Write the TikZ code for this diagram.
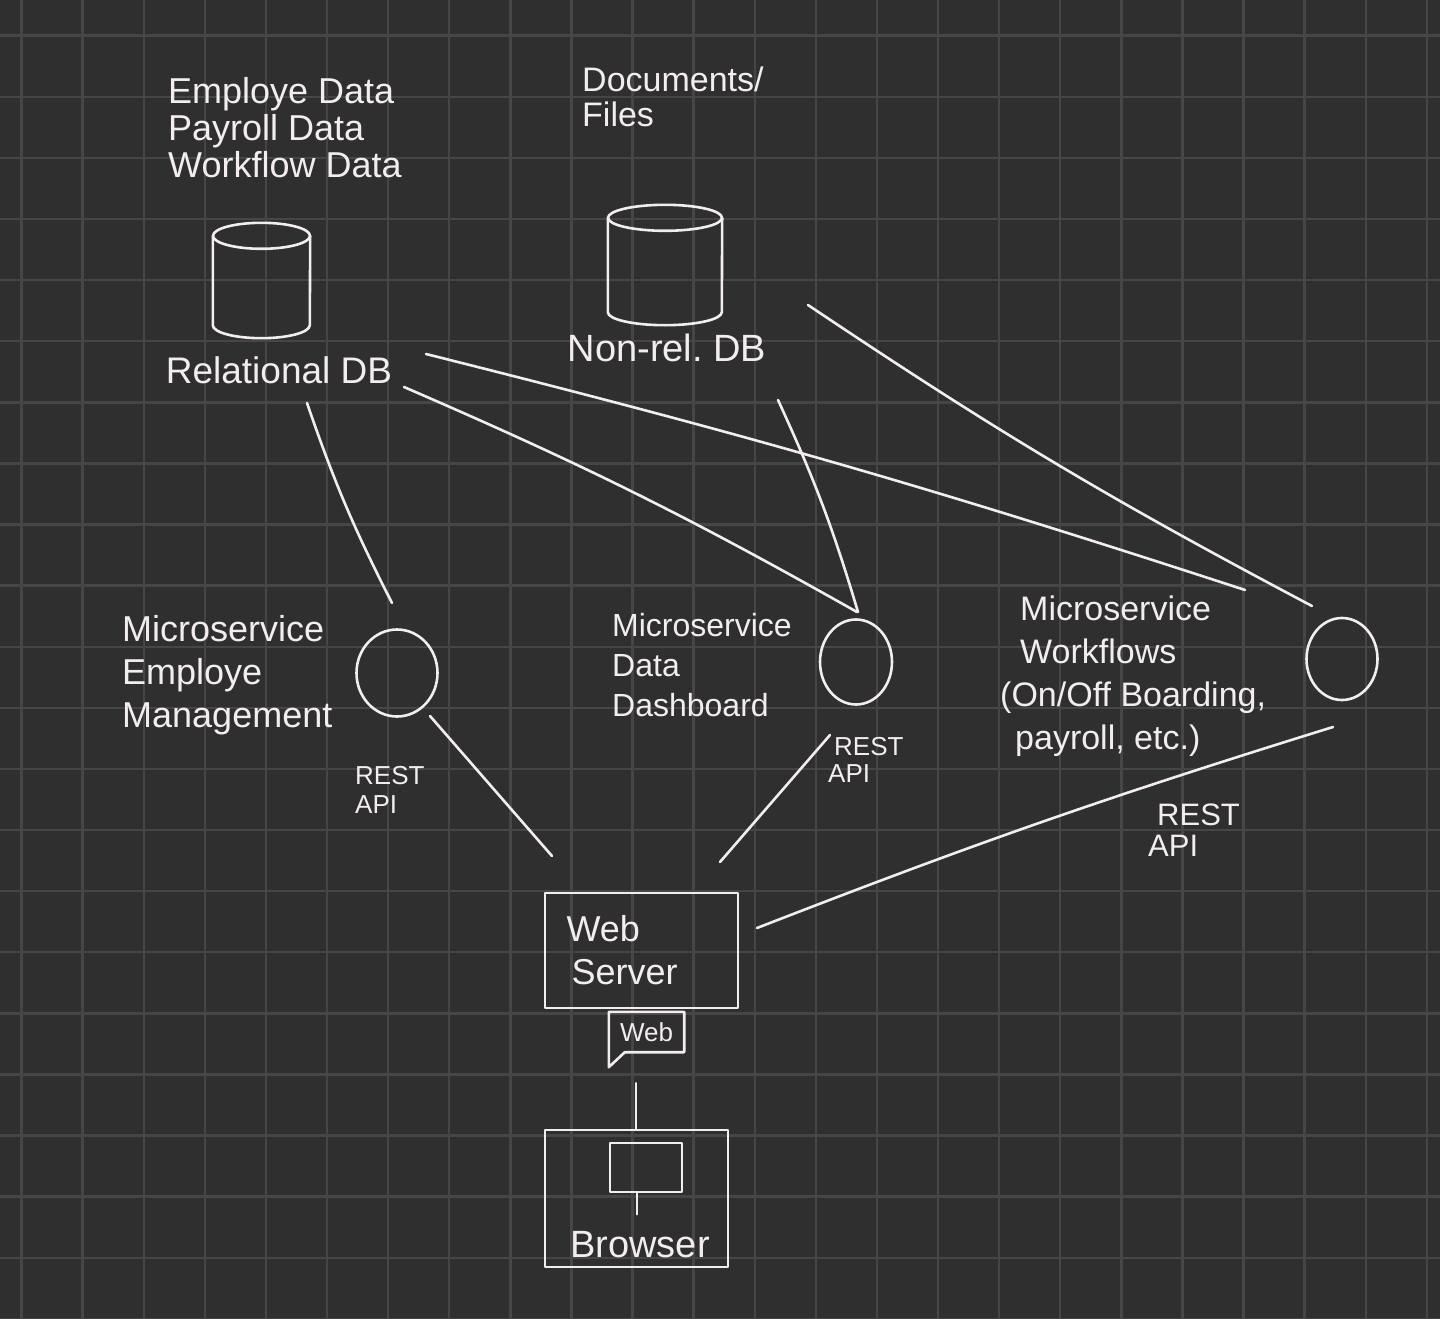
\documentclass[tikz,border=0pt]{standalone}
\usepackage{fontspec}
\setmainfont{Liberation Sans}
\usetikzlibrary{shapes.geometric,calc}
\definecolor{bgc}{HTML}{2F2F2F}
\definecolor{gridc}{HTML}{464646}
\definecolor{inkc}{HTML}{F4EDED}
\frenchspacing
\begin{document}
\begin{tikzpicture}[x=1pt,y=-1pt,
  ink/.style={draw=inkc,line width=2.6pt,line cap=round,line join=round},
  conn/.style={ink},
  gridline/.style={draw=gridc,line width=2.4pt},
  txt/.style={text=inkc,inner sep=0pt,align=left},
  box/.style={ink,rectangle,inner sep=0pt},
  svc/.style={ink,ellipse,inner sep=0pt},
  hold/.style={draw=none,rectangle,inner sep=0pt}]
% background and grid
\useasboundingbox (0,0) rectangle (1440,1319);
\fill[bgc] (0,0) rectangle (1440,1319);
\foreach \i in {0,...,23} \draw[gridline] (21.5+61.1*\i,0) -- (21.5+61.1*\i,1319);
\foreach \j in {0,...,21} \draw[gridline] (0,35.7+61.1*\j) -- (1440,35.7+61.1*\j);

% data labels
\node[txt,anchor=west,font=\fontsize{36}{37}\selectfont] (t1) at (168,128) {Employe Data\\Payroll Data\\Workflow Data};
\node[txt,anchor=west,font=\fontsize{34}{35}\selectfont] (t2) at (582,97) {Documents/\\Files};

% databases
\node[hold,minimum width=97pt,minimum height=115pt] (reldb) at (261.5,280.5) {};
\draw[ink] ([yshift=-13pt]reldb.north) ellipse [x radius=48.5pt,y radius=13pt];
\draw[ink] ([yshift=-13pt]reldb.north west) -- ([yshift=13pt]reldb.south west)
  arc[start angle=180,end angle=360,x radius=48.5pt,y radius=13pt] -- ([yshift=-13pt]reldb.north east);
\node[txt,font=\fontsize{37}{40}\selectfont] (reltxt) at (279,370) {Relational DB};

\node[hold,minimum width=114pt,minimum height=120pt] (nonrel) at (665,265) {};
\draw[ink] ([yshift=-13pt]nonrel.north) ellipse [x radius=57pt,y radius=13pt];
\draw[ink] ([yshift=-13pt]nonrel.north west) -- ([yshift=13pt]nonrel.south west)
  arc[start angle=180,end angle=360,x radius=57pt,y radius=13pt] -- ([yshift=-13pt]nonrel.north east);
\node[txt,font=\fontsize{38}{40}\selectfont] (nonreltxt) at (667,348) {Non-rel.\ DB};

% microservices
\node[svc,minimum width=81pt,minimum height=87pt] (c1) at (397,673) {};
\node[svc,minimum width=72pt,minimum height=85pt] (c2) at (856,662) {};
\node[svc,minimum width=71pt,minimum height=82pt] (c3) at (1342,659) {};
\node[txt,anchor=west,font=\fontsize{36}{43}\selectfont] (m1txt) at (122,675) {Microservice\\Employe\\Management};
\node[txt,anchor=west,font=\fontsize{32}{40}\selectfont] (m2txt) at (612,665) {Microservice\\Data\\Dashboard};
\node[txt,anchor=west,font=\fontsize{34}{43}\selectfont] (m3txt) at (1000,676) {\hspace*{20pt}Microservice\\\hspace*{20pt}Workflows\\(On/Off Boarding,\\\hspace*{15pt}payroll, etc.)};

% API labels
\node[txt,anchor=west,font=\fontsize{26}{29}\selectfont] (api1) at (355,790) {REST\\API};
\node[txt,anchor=west,font=\fontsize{26}{27}\selectfont] (api2) at (828,760) {\hspace*{6pt}REST\\API};
\node[txt,anchor=west,font=\fontsize{31}{31}\selectfont] (api3) at (1148,830) {\hspace*{9pt}REST\\API};

% web server, web tag, browser
\node[box,minimum width=193pt,minimum height=115pt,text width=150pt,text=inkc,font=\fontsize{36}{43}\selectfont] (web) at (641.5,950.5) {Web\\\hspace*{5pt}Server};
\node[hold,minimum width=75pt,minimum height=40pt,text=inkc,font=\fontsize{26}{28}\selectfont] (webtag) at (646.5,1032) {Web};
\draw[ink] (webtag.north west) -- (webtag.north east) -- (webtag.south east)
  -- ([xshift=16pt]webtag.south west) -- ([yshift=-15pt]webtag.south west) -- cycle;
\node[box,minimum width=183pt,minimum height=137pt] (browser) at (636.5,1198.5) {};
\node[box,minimum width=72pt,minimum height=49pt] (brwin) at (646,1167.5) {};
\draw[ink] ([xshift=-9pt]brwin.south) -- ++(0,21);
\node[txt,font=\fontsize{38}{40}\selectfont] (browsertxt) at (640,1245) {Browser};

% connectors
\draw[conn] ($(reltxt.center)+(28,33)$) to[bend right=4] ($(c1.center)+(-5,-70)$);
\draw[conn] ($(reltxt.center)+(125,17)$) to[bend left=3] ($(c2.center)+(1,-50)$);
\draw[conn] ($(reltxt.center)+(147,-16)$) to[bend left=2] ($(c3.center)+(-97,-69)$);
\draw[conn] ($(nonreltxt.center)+(111,52)$) to[bend left=4] ($(c2.center)+(2,-50)$);
\draw[conn] ($(nonrel.center)+(143,40)$) to[bend right=3] ($(c3.center)+(-30,-53)$);
\draw[conn] ($(c1.center)+(33,43)$) -- ($(web.center)+(-89.5,-94.5)$);
\draw[conn] ($(c2.center)+(-26,73)$) -- ($(web.center)+(78.5,-88.5)$);
\draw[conn] ($(c3.center)+(-9,68)$) to[bend right=2] ($(web.center)+(115.5,-22.5)$);
\draw[conn] ([xshift=-10.5pt,yshift=-31pt]webtag.south) -- ([xshift=-0.5pt]browser.north);
\end{tikzpicture}
\end{document}
